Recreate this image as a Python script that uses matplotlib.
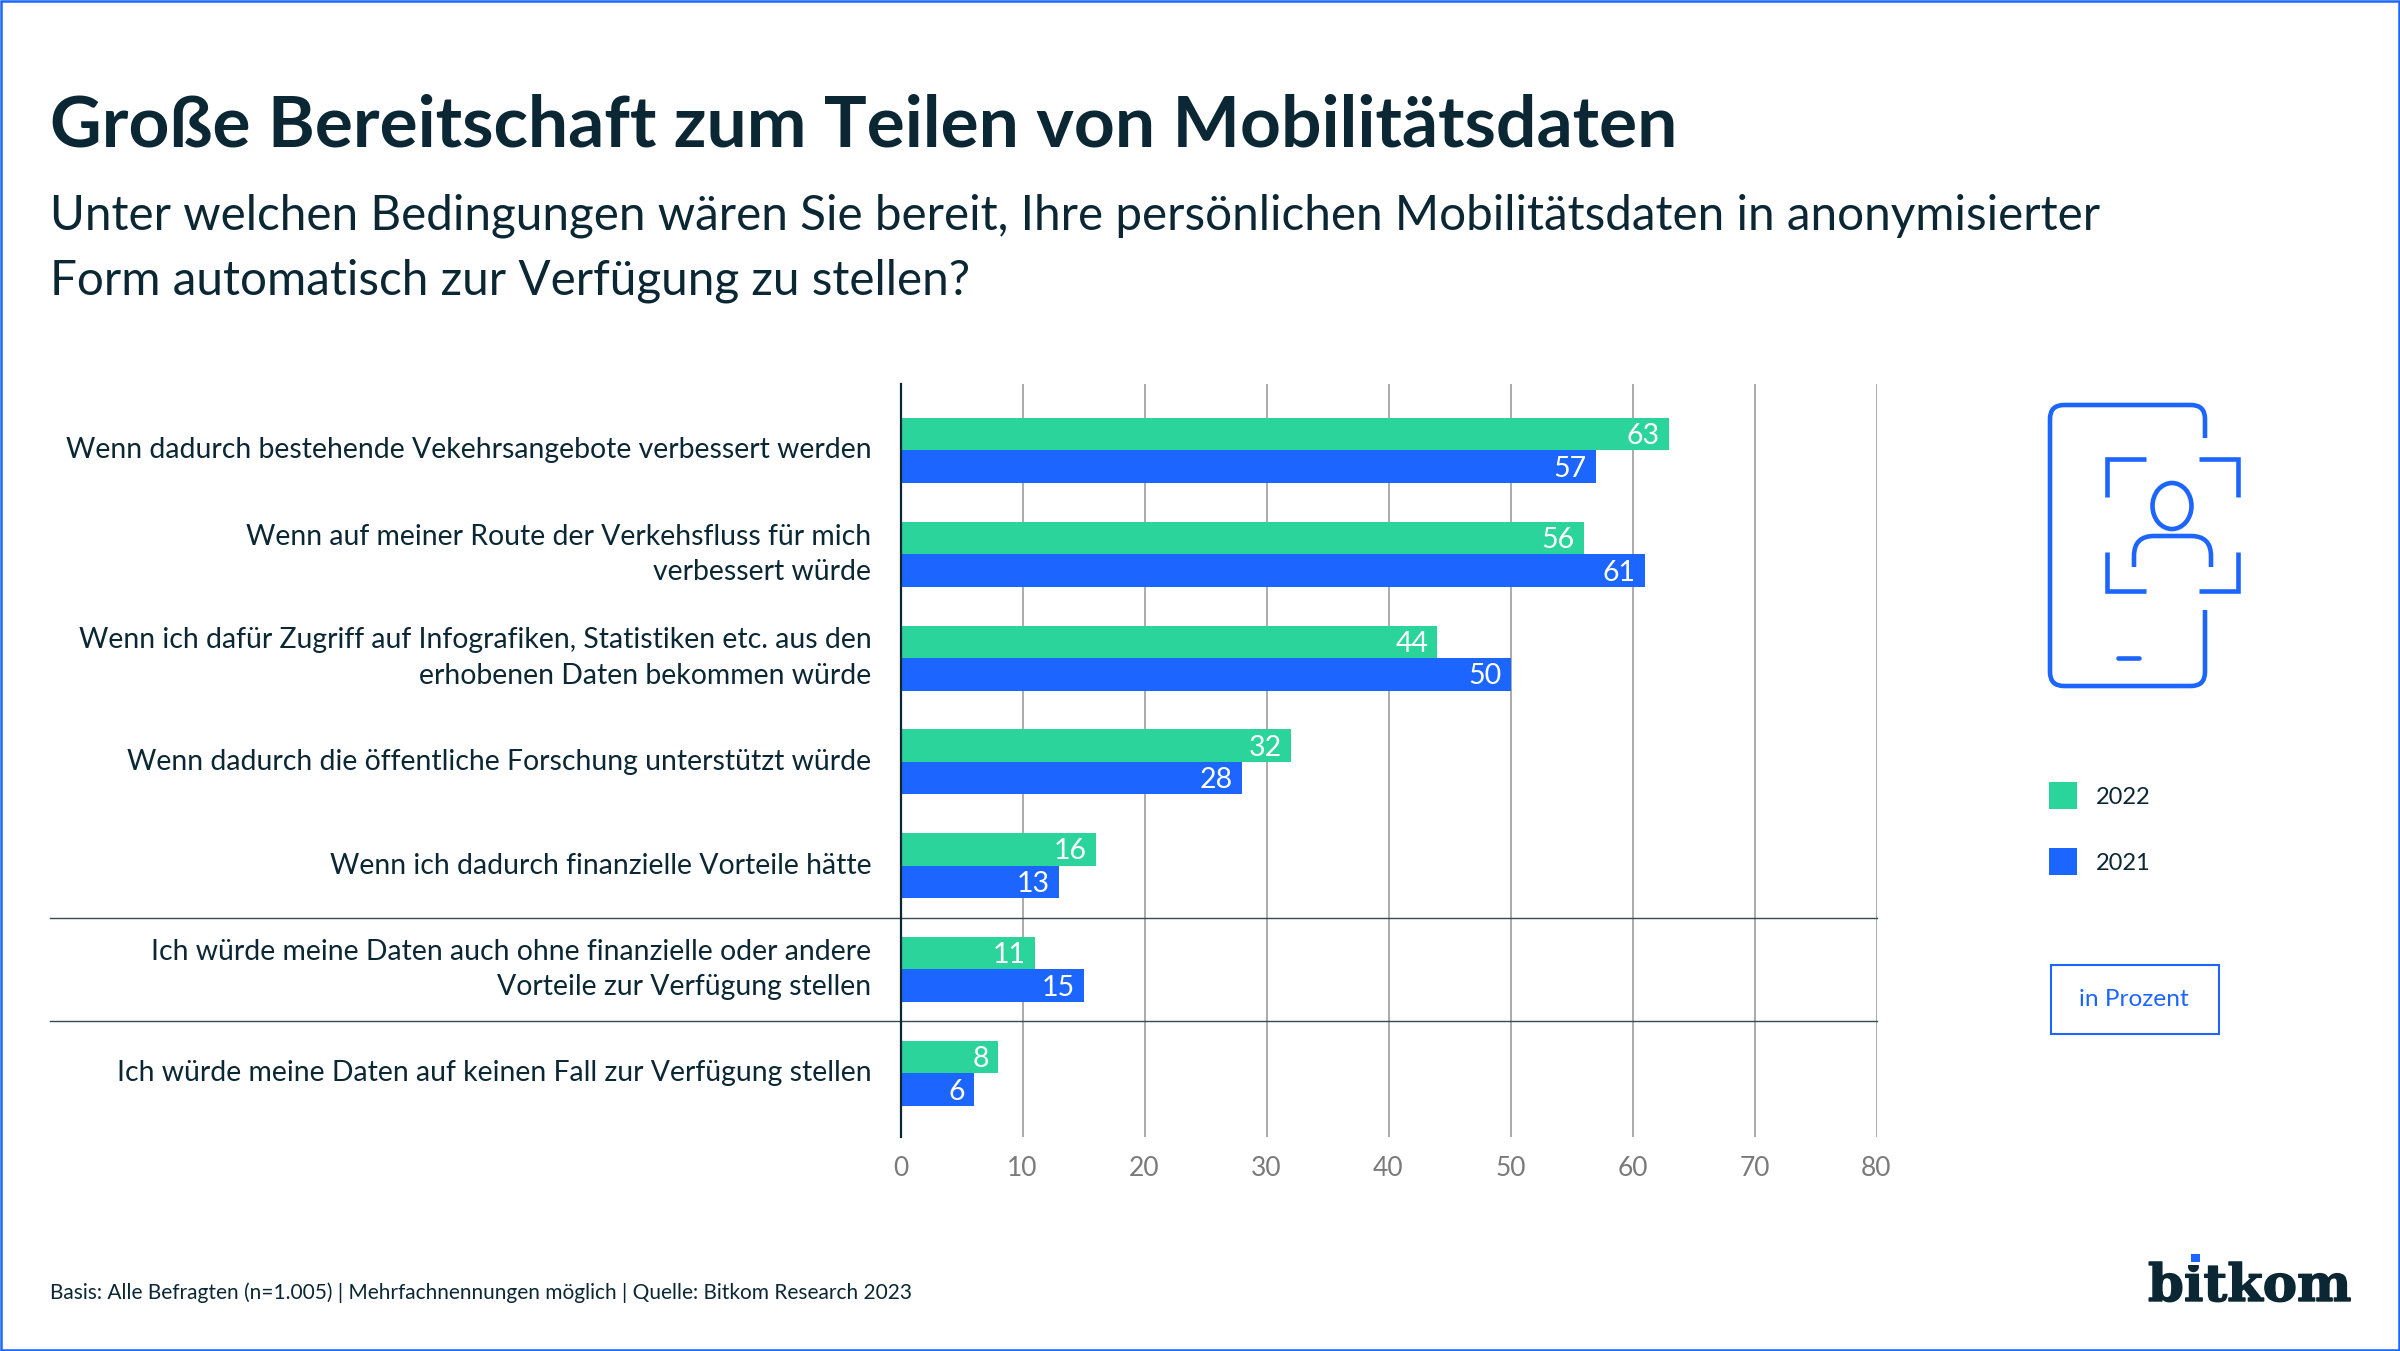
import matplotlib
matplotlib.use("Agg")
import matplotlib.pyplot as plt
import matplotlib.patheffects as pe
from matplotlib.patches import Rectangle, Ellipse, PathPatch
from matplotlib.path import Path

# ---- data ----
categories = [
    "Wenn dadurch bestehende Vekehrsangebote verbessert werden",
    "Wenn auf meiner Route der Verkehsfluss für mich\nverbessert würde",
    "Wenn ich dafür Zugriff auf Infografiken, Statistiken etc. aus den\nerhobenen Daten bekommen würde",
    "Wenn dadurch die öffentliche Forschung unterstützt würde",
    "Wenn ich dadurch finanzielle Vorteile hätte",
    "Ich würde meine Daten auch ohne finanzielle oder andere\nVorteile zur Verfügung stellen",
    "Ich würde meine Daten auf keinen Fall zur Verfügung stellen",
]
values_2022 = [63, 56, 44, 32, 16, 11, 8]
values_2021 = [57, 61, 50, 28, 13, 15, 6]
x_ticks = [0, 10, 20, 30, 40, 50, 60, 70, 80]
separators_after = [4, 5]

title = "Große Bereitschaft zum Teilen von Mobilitätsdaten"
subtitle = ["Unter welchen Bedingungen wären Sie bereit, Ihre persönlichen Mobilitätsdaten in anonymisierter",
            "Form automatisch zur Verfügung zu stellen?"]
footer = "Basis: Alle Befragten (n=1.005) | Mehrfachnennungen möglich | Quelle: Bitkom Research 2023"

GREEN = "#2AD49A"
BLUE = "#1C66FF"
DARK = "#0B2733"
GRID = "#9C9C9C"
TICK = "#7A7A7A"
FONT = "Lato"

W, H = 2400, 1351
plt.rcParams["font.family"] = [FONT, "DejaVu Sans"]
fig = plt.figure(figsize=(W / 100, H / 100), dpi=100, facecolor="white")

bg = fig.add_axes([0, 0, 1, 1], zorder=0)
bg.set_xlim(0, W); bg.set_ylim(H, 0); bg.axis("off")

L, R, T, B = 900.5, 1876.5, 384, 1137
ax = fig.add_axes([L / W, 1 - B / H, (R - L) / W, (B - T) / H], zorder=1)
ax.patch.set_alpha(0)
ax.set_xlim(0, 80)
ax.set_ylim(6.614, -0.640)
for s in ["top", "right", "bottom"]:
    ax.spines[s].set_visible(False)
ax.spines["left"].set_color(DARK)
ax.spines["left"].set_linewidth(1.6)
ax.set_xticks(x_ticks)
ax.set_yticks([])
ax.tick_params(axis="x", length=0, pad=14, labelsize=19, labelcolor=TICK)
ax.grid(axis="x", color=GRID, linewidth=1.2, zorder=0)
ax.set_axisbelow(True)

bar_h = 0.313
ypos = list(range(len(categories)))
ax.barh([y - bar_h / 2 for y in ypos], values_2022, height=bar_h, color=GREEN, zorder=2, linewidth=0)
ax.barh([y + bar_h / 2 for y in ypos], values_2021, height=bar_h, color=BLUE, zorder=2, linewidth=0)

for y, v in zip(ypos, values_2022):
    ax.annotate(str(v), (v, y - bar_h / 2), xytext=(-6.5, -1.5), textcoords="offset points",
                ha="right", va="center", color="white", fontsize=20.5, zorder=3)
for y, v in zip(ypos, values_2021):
    ax.annotate(str(v), (v, y + bar_h / 2), xytext=(-6.5, -1.5), textcoords="offset points",
                ha="right", va="center", color="white", fontsize=20.5, zorder=3)

labels = []
for y, lab in zip(ypos, categories):
    labels.append(ax.annotate(lab, (0, y), xytext=(-21, 0), textcoords="offset points", ha="right", va="center",
                              color=DARK, fontsize=20, linespacing=1.45, zorder=3))

xfm = ax.get_yaxis_transform()
for s in separators_after:
    ax.plot([(50 - L) / (R - L), 1], [s + 0.5, s + 0.5], transform=xfm, color="#3A4A50",
            linewidth=1.0, clip_on=False, zorder=1)

def fit(t, width):
    fig.canvas.draw()
    r = fig.canvas.get_renderer()
    w = t.get_window_extent(r).width
    t.set_fontsize(t.get_fontsize() * width / w)

fit(labels[0], 807)
for t in labels[1:]:
    t.set_fontsize(labels[0].get_fontsize())

tt = bg.text(50, 126, title, fontsize=50, fontweight="bold", color=DARK, va="center", ha="left")
fit(tt, 1632)
s1 = bg.text(50, 216, subtitle[0], fontsize=30, color=DARK, va="center", ha="left")
fit(s1, 2045)
s2 = bg.text(50, 281, subtitle[1], fontsize=s1.get_fontsize(), color=DARK, va="center", ha="left")
ft = bg.text(50, 1293, footer, fontsize=15, color=DARK, va="center", ha="left")
fit(ft, 863)

for y0, c, lab in [(782, GREEN, "2022"), (848, BLUE, "2021")]:
    bg.add_patch(Rectangle((2049, y0), 28, 27, facecolor=c, edgecolor="none"))
    bg.text(2096, y0 + 15, lab, fontsize=17, color=DARK, va="center", ha="left")

bg.add_patch(Rectangle((2050.5, 964.5), 168, 69, facecolor="none", edgecolor=BLUE, linewidth=1.5))
bg.text(2134, 999, "in Prozent", fontsize=17.6, color=BLUE, va="center", ha="center")

lw = 3.3
ic = dict(color=BLUE, linewidth=lw, solid_capstyle="butt", solid_joinstyle="miter")
r = 14
def rounded(x0, y0, x1, y1):
    verts = [(x1, 438), (x1, y0 + r), (x1, y0), (x1 - r, y0), (x0 + r, y0), (x0, y0), (x0, y0 + r),
             (x0, y1 - r), (x0, y1), (x0 + r, y1), (x1 - r, y1), (x1, y1), (x1, y1 - r), (x1, 610)]
    codes = [Path.MOVETO, Path.LINETO, Path.CURVE3, Path.CURVE3, Path.LINETO, Path.CURVE3, Path.CURVE3,
             Path.LINETO, Path.CURVE3, Path.CURVE3, Path.LINETO, Path.CURVE3, Path.CURVE3, Path.LINETO]
    return Path(verts, codes)
bg.add_patch(PathPatch(rounded(2050, 405, 2205, 686), facecolor="none", edgecolor=BLUE, linewidth=lw, capstyle="butt"))
bg.plot([2146, 2107, 2107], [459, 459, 497], **ic)
bg.plot([2199, 2238, 2238], [459, 459, 497], **ic)
bg.plot([2146, 2107, 2107], [591, 591, 552], **ic)
bg.plot([2199, 2238, 2238], [591, 591, 552], **ic)
bg.add_patch(Ellipse((2172, 506), 39, 46, facecolor="none", edgecolor=BLUE, linewidth=lw))
sh = Path([(2134, 567), (2134, 556), (2134, 536), (2154, 536), (2191, 536), (2211, 536), (2211, 556), (2211, 567)],
          [Path.MOVETO, Path.LINETO, Path.CURVE3, Path.CURVE3, Path.LINETO, Path.CURVE3, Path.CURVE3, Path.LINETO])
bg.add_patch(PathPatch(sh, facecolor="none", edgecolor=BLUE, linewidth=lw, capstyle="butt"))
bg.plot([2118, 2139], [658, 658], color=BLUE, linewidth=lw, solid_capstyle="round")

lg = bg.text(2148, 1301, "bitkom", fontsize=40, fontweight="bold", family=["DejaVu Serif"], color=DARK, va="baseline", ha="left")
fit(lg, 203)
lg.set_path_effects([pe.withStroke(linewidth=1.0, foreground=DARK)])
bg.add_patch(Rectangle((2184, 1236), 22, 29, facecolor="white", edgecolor="none", zorder=5))
bg.add_patch(Rectangle((2191, 1254), 9, 8, facecolor=BLUE, edgecolor="none", zorder=6))

bg.add_patch(Rectangle((1, 1), W - 2, H - 2, facecolor="none", edgecolor=BLUE, linewidth=1.8, zorder=7))

fig.savefig("out.png", dpi=100, facecolor="white")
